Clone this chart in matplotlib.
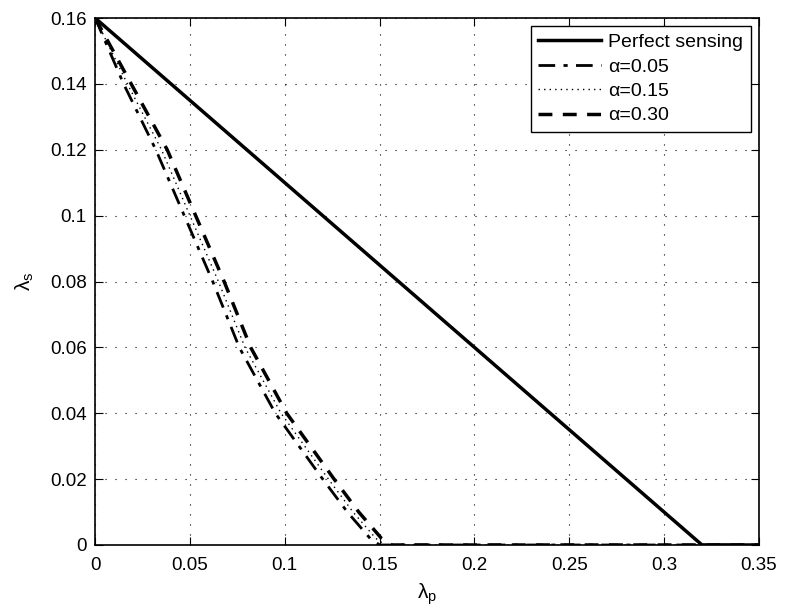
import matplotlib
matplotlib.use("Agg")
import matplotlib.pyplot as plt
import numpy as np

plt.rcParams['font.family'] = ['Liberation Sans', 'DejaVu Sans']

# Perfect sensing
x_perfect = [0.0, 0.32, 0.35]
y_perfect = [0.16, 0.0, 0.0]

# alpha curves (lambda_s values and corresponding lambda_p)
y_alpha = [0.16, 0.14, 0.12, 0.10, 0.08, 0.06, 0.04, 0.02, 0.01, 0.002, 0.0, 0.0]
x_a005 = [0.0, 0.015, 0.032, 0.047, 0.062, 0.076, 0.095, 0.120, 0.133, 0.145, 0.150, 0.35]
x_a015 = [0.0, 0.017, 0.035, 0.050, 0.065, 0.079, 0.098, 0.123, 0.136, 0.148, 0.153, 0.35]
x_a030 = [0.0, 0.019, 0.038, 0.053, 0.068, 0.082, 0.101, 0.126, 0.139, 0.151, 0.156, 0.35]

labels = ['Perfect sensing', 'α=0.05', 'α=0.15', 'α=0.30']
xticks = [0, 0.05, 0.1, 0.15, 0.2, 0.25, 0.3, 0.35]
xticklabels = ['0', '0.05', '0.1', '0.15', '0.2', '0.25', '0.3', '0.35']
yticks = [0, 0.02, 0.04, 0.06, 0.08, 0.1, 0.12, 0.14, 0.16]
yticklabels = ['0', '0.02', '0.04', '0.06', '0.08', '0.1', '0.12', '0.14', '0.16']

fig = plt.figure(figsize=(7.93, 6.12), dpi=100)
ax = fig.add_axes([0.12, 0.1095, 0.837, 0.861])

ax.plot(x_perfect, y_perfect, color='k', lw=2.5, ls='-', label=labels[0])
ax.plot(x_a005, y_alpha, color='k', lw=2, ls=(0, (6, 3, 1.5, 3)), label=labels[1])
ax.plot(x_a015, y_alpha, color='k', lw=1, ls=(0, (1, 3)), label=labels[2])
ax.plot(x_a030, y_alpha, color='k', lw=2.5, ls=(0, (4, 3)), label=labels[3])

ax.set_xlim(0, 0.35)
ax.set_ylim(0, 0.16)
ax.set_xticks(xticks)
ax.set_xticklabels(xticklabels)
ax.set_yticks(yticks)
ax.set_yticklabels(yticklabels)
ax.tick_params(direction='in', top=True, right=True, labelsize=13.5, length=6, width=0.8, pad=6)
ax.tick_params(axis='x', pad=9)
ax.grid(True, color='k', ls=(0, (1, 8)), lw=0.8)
for s in ax.spines.values():
    s.set_linewidth(1.2)

ax.set_xlabel('λ$_\\mathregular{p}$', fontsize=15, labelpad=5)
ax.set_ylabel('λ$_\\mathregular{s}$', fontsize=15, labelpad=10)

leg = ax.legend(loc='upper right', fontsize=14, frameon=True, fancybox=False,
                edgecolor='k', framealpha=1, handlelength=3.2, borderaxespad=0.4,
                labelspacing=0.35, handletextpad=0.4, borderpad=0.4)
leg.get_frame().set_linewidth(1.0)

fig.savefig('out.png', dpi=100)
